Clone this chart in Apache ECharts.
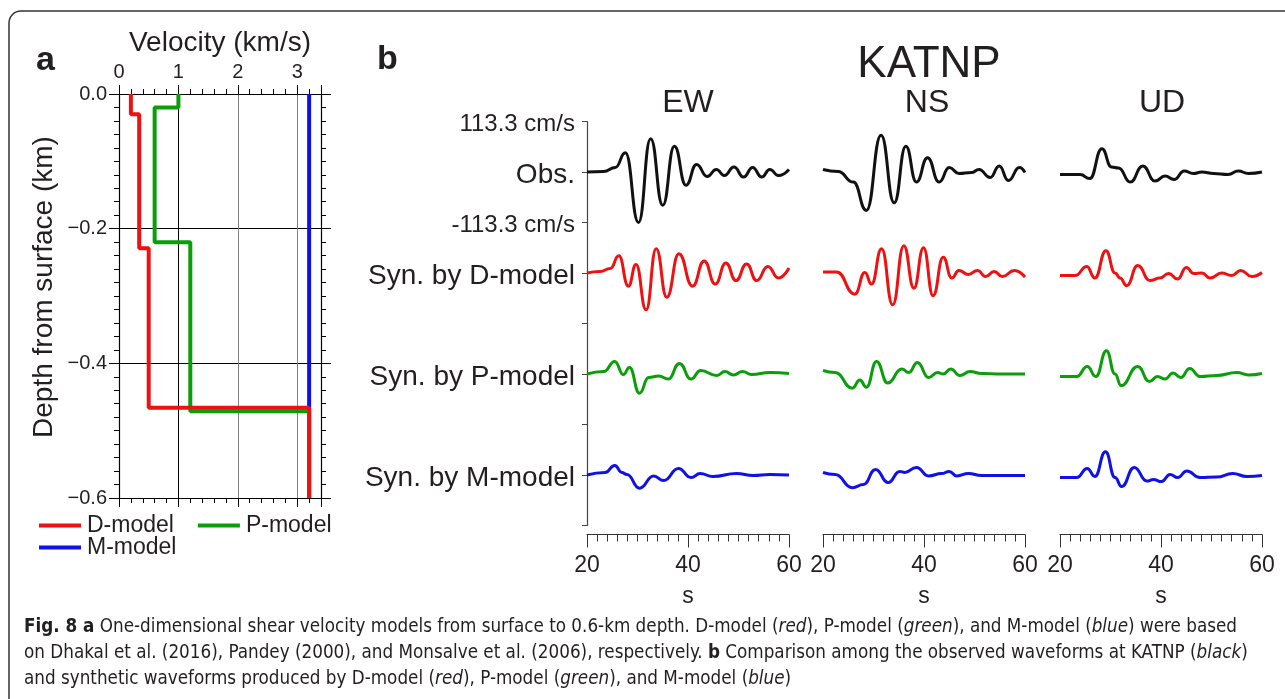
<!DOCTYPE html>
<html>
<head>
<meta charset="utf-8">
<script src="https://cdn.jsdelivr.net/npm/echarts@6/dist/echarts.min.js"></script>
<style>
  html, body { margin: 0; padding: 0; background: #fff; }
  #chart { width: 1285px; height: 699px; }
</style>
</head>
<body>
<div id="chart"></div>
<script>
// (a) shear velocity models: velocity of each layer (km/s) and depth of its top (km)
const dModelVel = [0.2, 0.34, 0.5, 3.2]
const dModelTop = [0, 0.03, 0.229, 0.466]
const pModelVel = [1.0, 0.6, 1.2, 3.2]
const pModelTop = [0, 0.02, 0.22, 0.471]
const mModelVel = [3.2]
const mModelTop = [0]
const maxDepth = 0.6

// (b) waveforms, [time s, amplitude in units of 113.3 cm/s]
const ewObs = [[20,0],[23.3,0.01],[25.6,0.09],[27.6,0.38],[30.2,-1.0],[32.6,0.66],[35.0,-0.66],[37.3,0.51],[39.6,-0.26],[41.7,0.15],[43.8,-0.09],[45.6,0.05],[47.2,-0.07],[49.1,0.10],[51.0,-0.10],[52.8,0.09],[54.6,-0.10],[56.2,0.05],[57.9,-0.07],[60,0.05]]
const ewD = [[20,0],[22.6,0.03],[24.6,0.09],[26.3,0.34],[28.2,-0.26],[29.7,0.17],[31.7,-0.73],[33.7,0.48],[35.8,-0.48],[38.2,0.38],[40.9,-0.26],[43.2,0.24],[45.4,-0.22],[47.5,0.2],[49.5,-0.15],[51.6,0.18],[53.6,-0.15],[55.8,0.13],[57.9,-0.10],[60,0.10]]
const ewP = [[20,0],[23.3,0.05],[25.5,0.25],[27.2,-0.01],[28.4,0.13],[30.4,-0.38],[32.2,-0.07],[34.2,-0.04],[36.1,-0.1],[38.3,0.21],[40.6,-0.1],[42.5,0.07],[45.7,-0.03],[47.3,0.05],[49.0,-0.02],[50.8,0.05],[52.6,-0.01],[56.2,0.03],[60,0.01]]
const ewM = [[20,0],[23.6,0.05],[25.5,0.19],[26.9,0.05],[27.9,0.01],[30.4,-0.26],[33.2,-0.02],[35.2,-0.11],[38.1,0.13],[40.6,-0.05],[42.4,0.03],[44.9,-0.03],[49.6,0.03],[52.9,-0.01],[56.2,0.01],[60,0]]

const nsObs = [[20,0.05],[23,0.01],[26,-0.2],[28.6,-0.76],[31.5,0.73],[34.1,-0.61],[36.4,0.51],[38.5,-0.2],[40.7,0.28],[43,-0.2],[45,0.09],[46.9,-0.03],[49.4,-0.01],[50.9,0.05],[53.1,-0.11],[54.9,0.12],[56.7,-0.17],[58.9,0.09],[60,-0.01]]
const nsD = [[20,0.02],[22.7,0.02],[26.3,-0.42],[28.3,0.01],[29.6,-0.22],[31.6,0.48],[33.8,-0.63],[36.0,0.54],[38.0,-0.3],[39.9,0.5],[41.8,-0.45],[43.8,0.31],[45.5,-0.1],[46.9,0.05],[48.8,-0.03],[50.6,0.05],[52.2,-0.07],[53.9,0.03],[55.5,-0.07],[57.9,0.05],[60,-0.08]]
const nsP = [[20,0.07],[22.4,0.03],[25.8,-0.28],[27.3,-0.12],[28.6,-0.26],[30.6,0.25],[32.8,-0.18],[35.6,0.1],[37.0,0.03],[38.7,0.23],[40.9,-0.07],[42.7,0.03],[43.8,0],[45.3,0.1],[47.1,-0.03],[49.1,0.05],[51.4,0.01],[55.4,0],[60,0]]
const nsM = [[20,0.05],[22.4,0.01],[25.8,-0.25],[28.0,-0.19],[30.4,0.11],[32.9,-0.15],[35.2,0.07],[36.2,0.05],[38.5,0.15],[40.9,-0.02],[43.5,0.03],[45.0,0.07],[46.5,-0.02],[48.8,0.03],[51.4,-0.01],[60,-0.01]]

const udObs = [[20,-0.05],[24,-0.05],[25.9,-0.13],[28.3,0.46],[30.2,0.1],[31.6,0.08],[33.9,-0.2],[36.4,0.12],[38.8,-0.18],[40.8,-0.08],[42.6,-0.15],[44.6,0.02],[46.4,-0.03],[48.1,0],[50.4,-0.03],[53.3,-0.05],[55.3,0.02],[57.3,-0.03],[60,0]]
const udD = [[20,-0.05],[23,-0.05],[25.3,0.13],[26.9,-0.1],[29.1,0.44],[30.9,0],[31.9,-0.1],[33.2,-0.25],[35.4,0.15],[37.8,-0.15],[39.8,-0.1],[41.5,-0.01],[43.3,-0.12],[45,0.11],[46.5,-0.01],[48.1,0],[49.7,-0.1],[52,0],[54,-0.05],[55.8,0.05],[58,-0.07],[60,0.01]]
const udP = [[20,-0.05],[23.3,-0.05],[25.4,0.15],[27.1,-0.05],[29.2,0.46],[30.9,0],[32.1,-0.23],[35.4,0.15],[37.7,-0.15],[39.3,-0.05],[40.8,-0.1],[42.4,0.02],[43.9,-0.07],[45.7,0.11],[47.7,-0.05],[51,-0.03],[55,0.03],[57.3,-0.02],[60,0.01]]
const udM = [[20,-0.05],[23.3,-0.05],[25.4,0.13],[26.9,-0.03],[29,0.46],[30.9,-0.05],[32.2,-0.23],[34.7,0.15],[37.2,-0.12],[38.5,-0.09],[40.1,-0.13],[41.8,0.01],[43.3,-0.05],[45.1,0.08],[47.7,-0.05],[51,-0.04],[54.2,0.03],[57,-0.03],[60,-0.01]]

const components = ['EW', 'NS', 'UD']
const traces = [[ewObs, ewD, ewP, ewM], [nsObs, nsD, nsP, nsM], [udObs, udD, udP, udM]]
const rowOffset = [0, -2, -4, -6]
const rowNames = ['Obs.', 'Syn. by D-model', 'Syn. by P-model', 'Syn. by M-model']
const ampLabel = '113.3 cm/s'

const INK = '#231f20'
const FONT = '"Liberation Sans", Arial, Helvetica, sans-serif'
const CAP_FONT = '"Liberation Sans Narrow", "DejaVu Sans Condensed", sans-serif'
const rowColor = ['#111111', '#ee1111', '#0a9f0a', '#1010e8']

function stepProfile(vel, top) {
    let pts = []
    for (let i = 0; i < vel.length; i++) {
        const bottom = i + 1 < top.length ? top[i + 1] : maxDepth
        pts.push([vel[i], -top[i]], [vel[i], -bottom])
    }
    return pts
}

const chart = echarts.init(document.getElementById('chart'), null, {renderer: 'canvas'})

const tickStyle = {color: '#000', width: 1}
// panel b grids (EW, NS, UD)
const wGrids = [
    {left: 587, top: 121.5, width: 202, height: 404},
    {left: 823, top: 121.5, width: 202, height: 404},
    {left: 1060, top: 121.5, width: 202, height: 404}
]

let xAxes = [
    { // velocity axis, top
        gridIndex: 0, type: 'value', position: 'top', min: 0, max: 3.4, interval: 1,
        axisLine: {onZero: false, lineStyle: {color: '#000', width: 1.2}},
        axisTick: {inside: false, length: 9, lineStyle: tickStyle},
        minorTick: {show: true, splitNumber: 5, length: 5, lineStyle: tickStyle},
        axisLabel: {fontSize: 20, color: INK, margin: 12, formatter: v => Number.isInteger(v) ? String(v) : ''},
        splitLine: {show: true, lineStyle: {color: ['#000', '#000', '#808080', '#808080', '#000'], width: 1}},
        name: 'Velocity (km/s)', nameLocation: 'middle', nameGap: 36,
        nameTextStyle: {fontSize: 28, color: INK}
    },
    { // velocity axis, bottom (ticks only)
        gridIndex: 0, type: 'value', position: 'bottom', min: 0, max: 3.4, interval: 1,
        axisLine: {onZero: false, lineStyle: {color: '#000', width: 1.2}},
        axisTick: {inside: false, length: 9, lineStyle: tickStyle},
        minorTick: {show: true, splitNumber: 5, length: 5, lineStyle: tickStyle},
        axisLabel: {show: false}, splitLine: {show: false}
    }
]
let yAxes = [
    { // depth axis, left
        gridIndex: 0, type: 'value', position: 'left', min: -0.6, max: 0, interval: 0.2,
        axisLine: {onZero: false, lineStyle: {color: '#000', width: 1.2}},
        axisTick: {inside: false, length: 10, lineStyle: tickStyle},
        minorTick: {show: true, splitNumber: 10, length: 5, lineStyle: tickStyle},
        axisLabel: {fontSize: 20, color: INK, margin: 12,
            formatter: v => v === 0 ? '0.0' : '\u2212' + Math.abs(v).toFixed(1)},
        splitLine: {show: true, lineStyle: {color: '#000', width: 1}},
        name: 'Depth from surface (km)', nameLocation: 'middle', nameGap: 61, nameRotate: 90,
        nameTextStyle: {fontSize: 28, color: INK, padding: [0, 0, 0, 18]}
    },
    { // depth axis, right (ticks only)
        gridIndex: 0, type: 'value', position: 'right', min: -0.6, max: 0, interval: 0.2,
        axisLine: {onZero: false, lineStyle: {color: '#000', width: 1.2}},
        axisTick: {inside: false, length: 10, lineStyle: tickStyle},
        minorTick: {show: true, splitNumber: 10, length: 5, lineStyle: tickStyle},
        axisLabel: {show: false}, splitLine: {show: false}
    }
]

components.forEach((c, i) => {
    xAxes.push({
        gridIndex: i + 1, type: 'value', position: 'bottom', min: 20, max: 60, interval: 20, offset: 9,
        axisLine: {onZero: false, lineStyle: {color: '#333', width: 1.2}},
        axisTick: {inside: false, length: 13, lineStyle: {color: '#333'}},
        minorTick: {show: true, splitNumber: 10, length: 7, lineStyle: {color: '#333'}},
        axisLabel: {fontSize: 23, color: INK, margin: 20},
        splitLine: {show: false},
        name: 's', nameLocation: 'middle', nameGap: 51,
        nameTextStyle: {fontSize: 23, color: INK}
    })
    yAxes.push({
        gridIndex: i + 1, type: 'value', min: -7, max: 1, interval: 1,
        show: i === 0,
        axisLine: {onZero: false, lineStyle: {color: '#444', width: 1.2}},
        axisTick: {inside: false, length: 5, lineStyle: {color: '#444'}},
        axisLabel: {
            margin: 12,
            formatter: function(v) {
                if (v === 1) return '{amp|' + ampLabel + '}'
                if (v === -1) return '{amp|-' + ampLabel + '}'
                const r = rowOffset.indexOf(v)
                return r >= 0 ? '{row|' + rowNames[r] + '}' : ''
            },
            rich: {
                amp: {fontSize: 24, color: INK, fontFamily: FONT, padding: [6, 0, 0, 0]},
                row: {fontSize: 28, color: INK, fontFamily: FONT, padding: [6, 0, 0, 0]}
            }
        },
        splitLine: {show: false}
    })
})

let series = []
// panel a, drawn blue -> green -> red so red ends on top
const models = [
    {name: 'M-model', color: '#1010e8', data: stepProfile(mModelVel, mModelTop)},
    {name: 'P-model', color: '#0a9f0a', data: stepProfile(pModelVel, pModelTop)},
    {name: 'D-model', color: '#ee1111', data: stepProfile(dModelVel, dModelTop)}
]
models.forEach(m => {
    series.push({
        name: m.name, type: 'line', xAxisIndex: 0, yAxisIndex: 0,
        data: m.data, symbol: 'none', color: m.color,
        lineStyle: {color: m.color, width: 4}
    })
})
// panel b waveforms
traces.forEach((col, c) => {
    col.forEach((tr, r) => {
        series.push({
            type: 'line', xAxisIndex: c + 2, yAxisIndex: c + 2,
            data: tr.map(p => [p[0], p[1] + rowOffset[r]]),
            symbol: 'none', smooth: 0.5, smoothMonotone: 'x',
            color: rowColor[r],
            lineStyle: {color: rowColor[r], width: 3}
        })
    })
})

const legendBase = {
    icon: 'rect', itemWidth: 42, itemHeight: 4, itemGap: 24, padding: 0,
    selectedMode: false, textStyle: {fontSize: 23, color: INK, padding: [0, 0, 0, 1]}
}

const capRich = {
    n: {fontSize: 18.7, fontFamily: CAP_FONT, fill: INK},
    b: {fontSize: 18.7, fontWeight: 'bold', fontFamily: CAP_FONT, fill: INK},
    i: {fontSize: 18.7, fontStyle: 'italic', fontFamily: CAP_FONT, fill: INK}
}
const captionLines = [
    '{b|Fig. 8 a}{n| One-dimensional shear velocity models from surface to 0.6-km depth. D-model (}{i|red}{n|), P-model (}{i|green}{n|), and M-model (}{i|blue}{n|) were based}',
    '{n|on Dhakal et al. (2016), Pandey (2000), and Monsalve et al. (2006), respectively. }{b|b}{n| Comparison among the observed waveforms at KATNP (}{i|black}{n|)}',
    '{n|and synthetic waveforms produced by D-model (}{i|red}{n|), P-model (}{i|green}{n|), and M-model (}{i|blue}{n|)}'
]

function label(text, x, y, size, opts) {
    return {
        type: 'text', x: x, y: y, silent: true,
        style: Object.assign({text: text, fontSize: size, fontFamily: FONT, fill: INK,
            align: 'center', verticalAlign: 'middle'}, opts || {})
    }
}

let graphics = [
    {type: 'rect', silent: true, shape: {x: 9, y: 11, width: 1300, height: 720, r: 12},
        style: {fill: 'none', stroke: '#333', lineWidth: 1.5}},
    label('a', 36, 61, 34, {fontWeight: 'bold', align: 'left'}),
    label('b', 377, 60, 34, {fontWeight: 'bold', align: 'left'}),
    label('KATNP', 929, 65, 44),
    label('EW', 688, 103, 32),
    label('NS', 927, 103, 32),
    label('UD', 1162, 103, 32)
]
captionLines.forEach((t, i) => {
    graphics.push({
        type: 'text', x: 24, y: 627 + i * 26, silent: true,
        style: {text: t, rich: capRich, align: 'left', verticalAlign: 'middle', fontSize: 18.7, fill: INK}
    })
})

const option = {
    animation: false,
    backgroundColor: '#fff',
    textStyle: {fontFamily: FONT, color: INK},
    grid: [{left: 119, top: 94, width: 202, height: 404}].concat(wGrids),
    xAxis: xAxes,
    yAxis: yAxes,
    legend: [
        Object.assign({}, legendBase, {data: ['D-model', 'P-model'], left: 39, top: 514}),
        Object.assign({}, legendBase, {data: ['M-model'], left: 39, top: 536})
    ],
    series: series,
    graphic: graphics
}
chart.setOption(option)
</script>
</body>
</html>
